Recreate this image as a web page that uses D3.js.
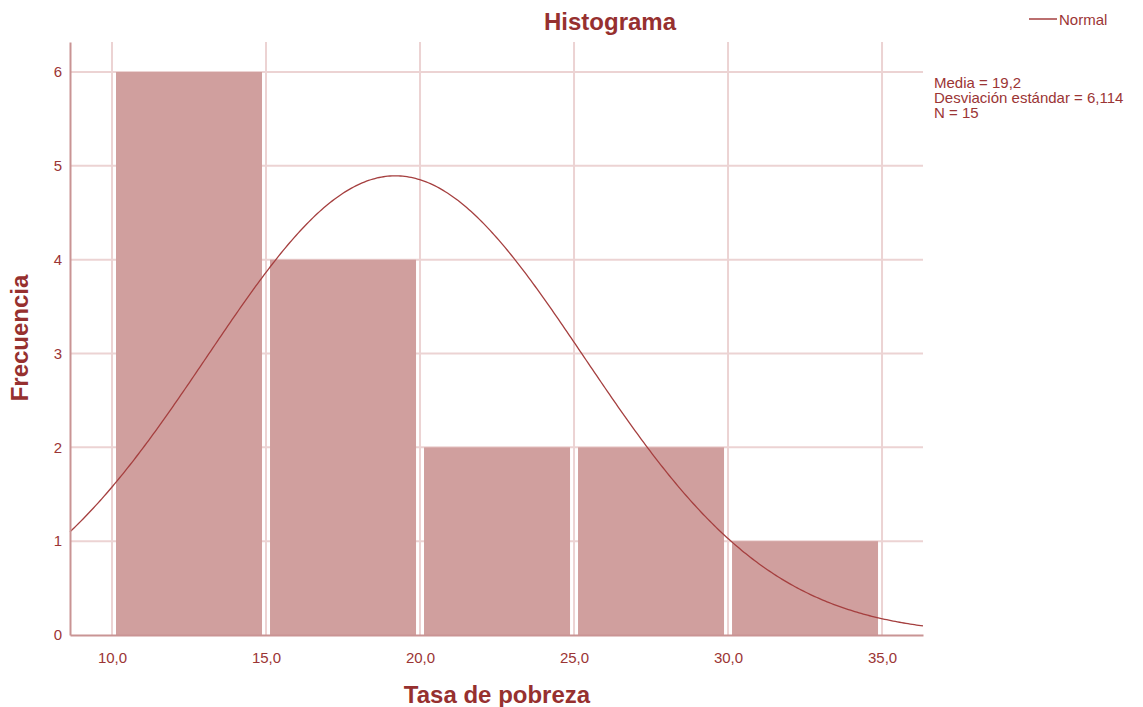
<!DOCTYPE html>
<html><head><meta charset="utf-8">
<script src="https://cdn.jsdelivr.net/npm/d3@7"></script>
<style>body{margin:0;background:#fff;font-family:"Liberation Sans",Arial,sans-serif;}</style>
</head><body>
<svg id="c" width="1143" height="707"></svg>
<script>
const binEdges = [10, 15, 20, 25, 30, 35];
const counts = [6, 4, 2, 2, 1];
const xTicks = [10, 15, 20, 25, 30, 35];
const yTicks = [0, 1, 2, 3, 4, 5, 6];
const mean = 19.2, sd = 6.114, n = 15;
const statsLines = ["Media = 19,2", "Desviación estándar = 6,114", "N = 15"];

const svg = d3.select("#c");
const L = 70, R = 923, T = 42, B = 635;
const x = d3.scaleLinear().domain([8.636, 36.33]).range([L, R]);
const y = d3.scaleLinear().domain([0, 6.32]).range([B, T]);
const gridC = "#ecd3d3", txtC = "#9b3535", axC = "#c99494";
const fmt = v => d3.format(".1f")(v).replace(".", ",");
const FF = "Liberation Sans, Arial, sans-serif";

// grid
svg.append("g").selectAll("line").data(xTicks).join("line")
  .attr("x1", d => x(d)).attr("x2", d => x(d)).attr("y1", T).attr("y2", B)
  .attr("stroke", gridC).attr("stroke-width", 2);
svg.append("g").selectAll("line").data(yTicks.filter(d => d > 0)).join("line")
  .attr("x1", L).attr("x2", R).attr("y1", d => y(d)).attr("y2", d => y(d))
  .attr("stroke", gridC).attr("stroke-width", 2);

// bars
const bins = counts.map((c, i) => ({x0: binEdges[i], x1: binEdges[i + 1], c}));
svg.append("g").selectAll("rect").data(bins).join("rect")
  .attr("x", d => x(d.x0) + 4).attr("width", d => x(d.x1) - x(d.x0) - 8)
  .attr("y", d => y(d.c)).attr("height", d => y(0) - y(d.c))
  .attr("fill", "#d09f9e");

// normal curve
const pts = d3.range(0, 401).map(i => {
  const xv = x.domain()[0] + (x.domain()[1] - x.domain()[0]) * i / 400;
  const yv = n * 5 / (sd * Math.sqrt(2 * Math.PI)) * Math.exp(-0.5 * ((xv - mean) / sd) ** 2);
  return [xv, yv];
});
svg.append("path").datum(pts)
  .attr("d", d3.line().x(d => x(d[0])).y(d => y(d[1])))
  .attr("fill", "none").attr("stroke", "#a53f3f").attr("stroke-width", 1.3);

// axes
const xa = svg.append("g").attr("transform", `translate(0,${B})`)
  .call(d3.axisBottom(x).tickValues(xTicks).tickFormat(fmt).tickSize(0).tickPadding(17));
xa.select(".domain").attr("stroke", axC).attr("stroke-width", 2);
const ya = svg.append("g").attr("transform", `translate(${L},0)`)
  .call(d3.axisLeft(y).tickValues(yTicks).tickFormat(d3.format("d")).tickSize(0).tickPadding(8));
ya.select(".domain").attr("stroke", axC).attr("stroke-width", 2);
[xa, ya].forEach(a => a.attr("font-size", 15).attr("font-family", FF));
svg.selectAll(".tick text").attr("fill", txtC);

// titles
svg.append("text").attr("x", 610).attr("y", 30).attr("text-anchor", "middle").attr("font-family", FF)
  .attr("font-size", 24).attr("font-weight", "bold").attr("fill", "#96302f").text("Histograma");
svg.append("text").attr("x", 497).attr("y", 703).attr("text-anchor", "middle").attr("font-family", FF)
  .attr("font-size", 24).attr("font-weight", "bold").attr("fill", "#96302f").text("Tasa de pobreza");
svg.append("text").attr("transform", "translate(28,338) rotate(-90)").attr("text-anchor", "middle").attr("font-family", FF)
  .attr("font-size", 24).attr("font-weight", "bold").attr("fill", "#96302f").text("Frecuencia");

// legend
svg.append("line").attr("x1", 1029).attr("x2", 1057).attr("y1", 19).attr("y2", 19)
  .attr("stroke", "#a53f3f").attr("stroke-width", 1.5);
svg.append("text").attr("x", 1059).attr("y", 25).attr("font-size", 15).attr("font-family", FF).attr("fill", txtC).text("Normal");

// stats
svg.append("g").selectAll("text").data(statsLines).join("text")
  .attr("x", 934).attr("y", (d, i) => 88 + i * 15).attr("font-family", FF)
  .attr("font-size", 15).attr("fill", txtC).text(d => d);
</script>
</body></html>
